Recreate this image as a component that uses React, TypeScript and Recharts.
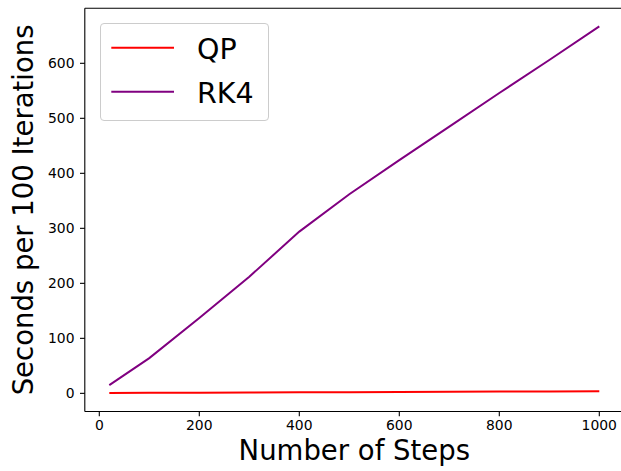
import React from "react";
import { LineChart, Line, XAxis, YAxis, Legend, ReferenceLine } from "recharts";

const steps = [20, 100, 200, 300, 400, 500, 600, 700, 800, 900, 1000];
const qpValues = [0.7, 0.9, 1.2, 1.5, 1.9, 2.2, 2.5, 2.9, 3.2, 3.5, 3.9];
const rk4Values = [15, 64, 137, 212, 294, 362, 424, 485, 546, 606, 667];
const xTicks = [0, 200, 400, 600, 800, 1000];
const yTicks = [0, 100, 200, 300, 400, 500, 600];
const seriesNames = ["QP", "RK4"];
const seriesColors = ["#ff0000", "#800080"];
const xDomain = [-29, 1049];
const yDomain = [-33, 700];

const data = steps.map((s, i) => ({ steps: s, QP: qpValues[i], RK4: rk4Values[i] }));

const FONT = "'DejaVu Sans', sans-serif";

const LegendBox = (props: any) => {
  const payload = props.payload || [];
  return (
    <div
      style={{
        width: 169.3,
        height: 97.4,
        boxSizing: "border-box",
        border: "1px solid #cccccc",
        borderRadius: 4,
        background: "rgba(255,255,255,0.8)",
        position: "relative",
      }}
    >
      <svg width={169.3} height={97.4} style={{ position: "absolute", left: -1, top: -1 }}>
        {payload.map((p: any, i: number) => {
          const ly = 24.7 + i * 44;
          return (
            <g key={p.value}>
              <line x1={11.3} x2={74} y1={ly} y2={ly} stroke={p.color} strokeWidth={2} />
              <text x={97} y={ly + 11} fontSize={28.5} fontFamily={FONT} fill="#000">
                {p.value}
              </text>
            </g>
          );
        })}
      </svg>
    </div>
  );
};

const YLabel = (props: any) => {
  const vb = props.viewBox || { x: 0, y: 0, width: 0, height: 0 };
  const cx = 33;
  const cy = vb.y + vb.height / 2;
  return (
    <text
      x={cx}
      y={cy}
      transform={`rotate(-90, ${cx}, ${cy})`}
      textAnchor="middle"
      fontSize={27.5}
      fontFamily={FONT}
      fill="#000"
    >
      Seconds per 100 Iterations
    </text>
  );
};

const XLabel = (props: any) => {
  const vb = props.viewBox || { x: 0, y: 0, width: 0, height: 0 };
  const cx = vb.x + vb.width / 2;
  return (
    <text x={cx} y={460} textAnchor="middle" fontSize={27.5} fontFamily={FONT} fill="#000">
      Number of Steps
    </text>
  );
};

export default function App() {
  return (
    <div
      style={{
        position: "absolute",
        left: 0,
        top: 0,
        width: 621,
        height: 471,
        overflow: "hidden",
        background: "#fff",
      }}
    >
      <LineChart
        width={640}
        height={471}
        data={data}
        margin={{ top: 8.3, right: 16.2, left: 0, bottom: 0 }}
      >
        <XAxis
          dataKey="steps"
          type="number"
          domain={xDomain}
          ticks={xTicks}
          allowDataOverflow
          height={59.5}
          tickSize={4.8}
          tickMargin={4}
          axisLine={{ stroke: "#000", strokeWidth: 1.1 }}
          tickLine={{ stroke: "#000", strokeWidth: 1.1 }}
          tick={{ fill: "#000", fontSize: 13.9, fontFamily: FONT }}
          label={<XLabel />}
        />
        <YAxis
          type="number"
          domain={yDomain}
          ticks={yTicks}
          allowDataOverflow
          width={84.8}
          tickSize={4.8}
          tickMargin={5.5}
          axisLine={{ stroke: "#000", strokeWidth: 1.1 }}
          tickLine={{ stroke: "#000", strokeWidth: 1.1 }}
          tick={{ fill: "#000", fontSize: 13.9, fontFamily: FONT }}
          label={<YLabel />}
        />
        <ReferenceLine y={yDomain[1]} stroke="#000" strokeWidth={1.1} ifOverflow="visible" />
        <ReferenceLine x={xDomain[1]} stroke="#000" strokeWidth={1.1} ifOverflow="visible" />
        <Legend
          layout="vertical"
          align="center"
          verticalAlign="middle"
          content={<LegendBox />}
          wrapperStyle={{ left: 99.7, top: 23.3, width: "auto", height: "auto", bottom: "auto", right: "auto" }}
        />
        <Line
          type="linear"
          dataKey="QP"
          name={seriesNames[0]}
          stroke={seriesColors[0]}
          strokeWidth={2}
          dot={false}
          isAnimationActive={false}
        />
        <Line
          type="linear"
          dataKey="RK4"
          name={seriesNames[1]}
          stroke={seriesColors[1]}
          strokeWidth={2}
          dot={false}
          isAnimationActive={false}
        />
      </LineChart>
    </div>
  );
}
